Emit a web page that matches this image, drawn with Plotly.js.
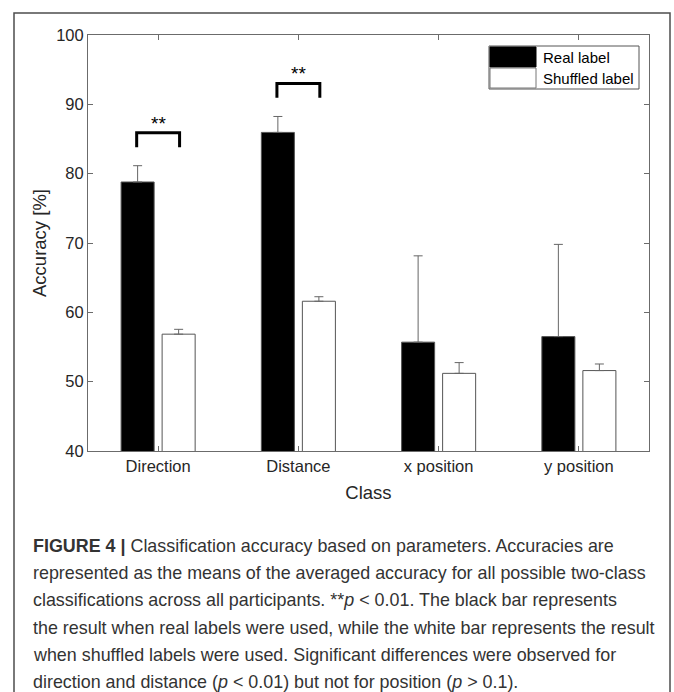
<!DOCTYPE html>
<html>
<head>
<meta charset="utf-8">
<script src="https://cdn.plot.ly/plotly-3.0.1.min.js"></script>
<style>
  html, body { margin: 0; padding: 0; background: #fff; }
  #chart { width: 674px; height: 692px; }
</style>
</head>
<body>
<div id="chart"></div>
<script>
// ---- data ----
const categories = ["Direction", "Distance", "x position", "y position"];
const realMean = [78.8, 85.95, 55.7, 56.5];
const realErr = [2.35, 2.3, 12.45, 13.3];
const shuffledMean = [56.85, 61.6, 51.2, 51.6];
const shuffledErr = [0.7, 0.65, 1.55, 0.95];
const seriesNames = ["Real label", "Shuffled label"];
const yTicks = [40, 50, 60, 70, 80, 90, 100];
// significance brackets: category index, bracket top, leg bottom, star level
const sigCategory = [0, 1];
const sigTop = [85.9, 93.0];
const sigLeg = [83.8, 90.95];
const sigStarY = [87.3, 94.5];
const sigText = ["**", "**"];
const captionLines = [
  "<b>FIGURE 4 |</b> Classification accuracy based on parameters. Accuracies are",
  "represented as the means of the averaged accuracy for all possible two-class",
  "classifications across all participants. **<i>p</i> &lt; 0.01. The black bar represents",
  "the result when real labels were used, while the white bar represents the result",
  "when shuffled labels were used. Significant differences were observed for",
  "direction and distance (<i>p</i> &lt; 0.01) but not for position (<i>p</i> &gt; 0.1)."
];

// ---- layout geometry (pixels) ----
const W = 674, H = 692;
const M = {l: 88, r: 25, t: 35, b: 241};
const PW = W - M.l - M.r, PH = H - M.t - M.b;
const px = x => (x - M.l) / PW;
const py = y => (H - M.b - y) / PH;
const FONT = "Liberation Sans, Arial, sans-serif";
const AXC = "#6b6b6b";
const TXT = "#262626";
const halfBracket = 0.153;

const errStyle = {type: "data", symmetric: false, color: "#666", thickness: 1, width: 4.5};
const zeros = realMean.map(() => 0);

const traces = [
  {
    type: "bar", name: seriesNames[0], x: categories, y: realMean,
    marker: {color: "#000000", line: {color: "#555", width: 1}},
    error_y: Object.assign({array: realErr, arrayminus: zeros}, errStyle),
    showlegend: false, hoverinfo: "x+y"
  },
  {
    type: "bar", name: seriesNames[1], x: categories, y: shuffledMean,
    marker: {color: "#ffffff", line: {color: "#555", width: 1}},
    error_y: Object.assign({array: shuffledErr, arrayminus: zeros}, errStyle),
    showlegend: false, hoverinfo: "x+y"
  }
];

const shapes = [];
const annotations = [];

// significance brackets
sigCategory.forEach((c, i) => {
  shapes.push({
    type: "path", xref: "x", yref: "y",
    path: `M ${c - halfBracket} ${sigLeg[i]} L ${c - halfBracket} ${sigTop[i]} L ${c + halfBracket} ${sigTop[i]} L ${c + halfBracket} ${sigLeg[i]}`,
    line: {color: "#000", width: 3}
  });
  annotations.push({
    xref: "x", yref: "y", x: c, y: sigStarY[i], text: sigText[i], showarrow: false,
    font: {family: FONT, size: 19, color: "#000"}, xanchor: "center", yanchor: "middle"
  });
});

// custom MATLAB-style legend
shapes.push({type: "rect", xref: "paper", yref: "paper", x0: px(489), x1: px(639), y0: py(89), y1: py(46),
  line: {color: "#555", width: 1}, fillcolor: "#fff", layer: "above"});
shapes.push({type: "rect", xref: "paper", yref: "paper", x0: px(490), x1: px(536), y0: py(67), y1: py(47),
  line: {color: "#000", width: 1}, fillcolor: "#000", layer: "above"});
shapes.push({type: "rect", xref: "paper", yref: "paper", x0: px(490), x1: px(536), y0: py(88), y1: py(68),
  line: {color: "#777", width: 1}, fillcolor: "#fff", layer: "above"});
annotations.push({xref: "paper", yref: "paper", x: px(541), y: py(57.5), text: seriesNames[0], showarrow: false,
  xanchor: "left", yanchor: "middle", font: {family: FONT, size: 15, color: "#000"}});
annotations.push({xref: "paper", yref: "paper", x: px(541), y: py(78.5), text: seriesNames[1], showarrow: false,
  xanchor: "left", yanchor: "middle", font: {family: FONT, size: 15, color: "#000"}});

// outer figure frame
shapes.push({type: "rect", xref: "paper", yref: "paper", x0: px(14), x1: px(670), y0: py(720), y1: py(13),
  line: {color: "#4d4d4d", width: 1.5}, fillcolor: "rgba(0,0,0,0)", layer: "above"});

// caption lines
captionLines.forEach((t, i) => {
  annotations.push({xref: "paper", yref: "paper", x: px(31), y: py(546 + i * 27.2), text: t, showarrow: false,
    xanchor: "left", yanchor: "middle", align: "left",
    font: {family: FONT, size: 17.9, color: "#333"}});
});

const layout = {
  width: W, height: H,
  margin: M,
  paper_bgcolor: "#fff", plot_bgcolor: "#fff",
  font: {family: FONT, size: 16, color: TXT},
  barmode: "group", bargap: 0.415, bargroupgap: 0.195,
  showlegend: false,
  xaxis: {
    type: "category", range: [-0.5, 3.5], automargin: false,
    showline: true, linecolor: AXC, linewidth: 1, mirror: "ticks",
    ticks: "inside", ticklen: 5, tickcolor: AXC, showgrid: false, zeroline: false,
    tickfont: {family: FONT, size: 16.5, color: TXT},
    title: {text: "Class", font: {family: FONT, size: 18.5, color: TXT}, standoff: 12}
  },
  yaxis: {
    range: [40, 100], tickvals: yTicks, automargin: false,
    showline: true, linecolor: AXC, linewidth: 1, mirror: "ticks",
    ticks: "inside", ticklen: 5, tickcolor: AXC, showgrid: false, zeroline: false,
    tickfont: {family: FONT, size: 16.5, color: TXT},
    title: {text: "Accuracy [%]", font: {family: FONT, size: 18.5, color: TXT}, standoff: 4}
  },
  shapes: shapes,
  annotations: annotations
};

Plotly.newPlot("chart", traces, layout, {displayModeBar: false, staticPlot: true});
</script>
</body>
</html>
